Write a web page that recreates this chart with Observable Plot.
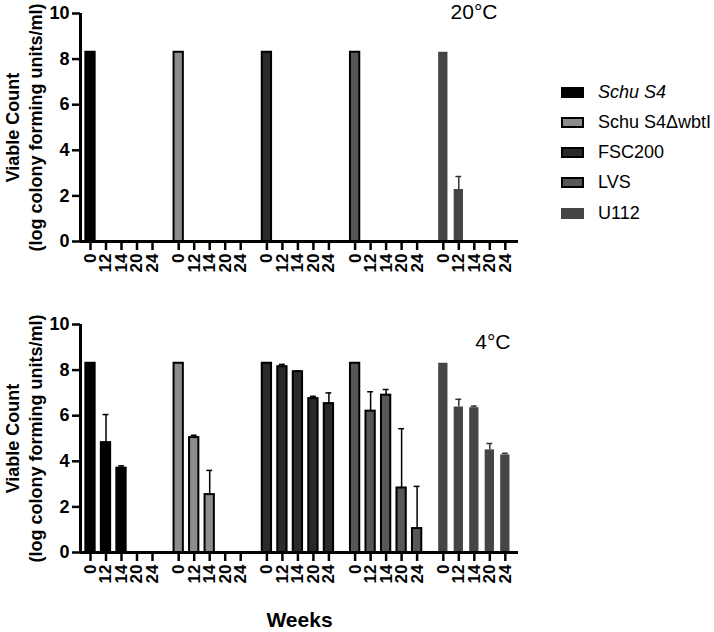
<!DOCTYPE html>
<html><head><meta charset="utf-8">
<script src="https://cdn.jsdelivr.net/npm/d3@7"></script>
<script src="https://cdn.jsdelivr.net/npm/@observablehq/plot@0.6"></script>
<style>
body{margin:0;background:#fff;font-family:"Liberation Sans",Arial,sans-serif;}
#wrap{position:relative;width:714px;height:632px;overflow:hidden;}
#top{position:absolute;left:0;top:0}
#bottom{position:absolute;left:0;top:300px}
#legend{position:absolute;left:561px;top:0;width:153px;height:260px}
.row{position:absolute;left:0;height:22px;display:flex;align-items:center;white-space:nowrap;font-size:18px;color:#000}
.sw{width:23px;height:11px;box-sizing:border-box;margin-right:14px;flex:none}
svg text{font-family:"Liberation Sans",Arial,sans-serif}
</style></head><body>
<div id="wrap"><div id="top"></div><div id="bottom"></div><div id="legend"></div></div>
<script>
// ---- data ----
const strains = ["Schu S4", "Schu S4\u0394wbtI", "FSC200", "LVS", "U112"];
const weeks = ["0", "12", "14", "20", "24"];
const yTicks = [0, 2, 4, 6, 8, 10];
// 20 °C: mean log CFU/ml per strain (rows) and week (columns); 0 = none recovered
const mean20 = [
  [8.3, 0, 0, 0, 0],
  [8.3, 0, 0, 0, 0],
  [8.3, 0, 0, 0, 0],
  [8.3, 0, 0, 0, 0],
  [8.3, 2.28, 0, 0, 0]
];
const sd20 = [
  [0, 0, 0, 0, 0],
  [0, 0, 0, 0, 0],
  [0, 0, 0, 0, 0],
  [0, 0, 0, 0, 0],
  [0, 0.57, 0, 0, 0]
];
// 4 °C
const mean4 = [
  [8.3, 4.82, 3.7, 0, 0],
  [8.3, 5.04, 2.54, 0, 0],
  [8.3, 8.15, 7.93, 6.75, 6.53],
  [8.3, 6.2, 6.9, 2.83, 1.05],
  [8.3, 6.38, 6.35, 4.5, 4.28]
];
const sd4 = [
  [0, 1.23, 0.1, 0, 0],
  [0, 0.1, 1.06, 0, 0],
  [0, 0.1, 0.03, 0.1, 0.47],
  [0, 0.85, 0.25, 2.6, 1.85],
  [0, 0.34, 0.07, 0.28, 0.07]
];
// ---- styles ----
const fills = ["#000000", "#8c8c8c", "#2a2a2a", "#575757", "#454545"];
const strokes = ["#000000", "#000000", "#000000", "#000000", "none"];
const errColors = ["#000000", "#000000", "#000000", "#000000", "#333333"];
const groupStep = 5.69;   // group spacing in bar units
const half = 0.3;         // half bar width in bar units

function rowsFrom(means, sds) {
  const rows = [];
  strains.forEach((s, g) => weeks.forEach((w, i) => {
    rows.push({strain: s, week: w, g, i, pos: g * groupStep + i, mean: means[g][i], sd: sds[g][i]});
  }));
  return rows;
}
const tickPos = [];
const tickLab = new Map();
strains.forEach((s, g) => weeks.forEach((w, i) => { const p = g * groupStep + i; tickPos.push(p); tickLab.set(p, w); }));
const xDomain = [-0.645, 27.61];

function panel(rows, title, o) {
  const bars = rows.filter(d => d.mean > 0);
  const errs = bars.filter(d => d.sd > 0);
  return Plot.plot({
    width: 714, height: o.height,
    marginLeft: 80, marginRight: 196, marginTop: o.mt, marginBottom: o.mb,
    style: {fontFamily: "Liberation Sans, Arial, sans-serif", background: "#fff", overflow: "visible"},
    x: {domain: xDomain, axis: null},
    y: {domain: [0, 10], axis: null},
    marks: [
      Plot.ruleX(errs, {x: "pos", y1: "mean", y2: d => d.mean + d.sd, stroke: d => errColors[d.g], strokeWidth: 1.5}),
      Plot.ruleY(errs, {y: d => d.mean + d.sd, x1: d => d.pos - 0.19, x2: d => d.pos + 0.19, stroke: d => errColors[d.g], strokeWidth: 1.5}),
      Plot.rectY(bars, {x1: d => d.pos - half, x2: d => d.pos + half, y1: 0, y2: "mean",
        fill: d => fills[d.g], stroke: d => strokes[d.g], strokeWidth: 2}),
      Plot.axisY({ticks: yTicks, tickSize: 8, tickPadding: 3, fontSize: 18, fontWeight: "bold", strokeWidth: 2.5, label: null}),
      Plot.axisX({ticks: tickPos, tickFormat: d => tickLab.get(d), tickSize: 9, tickPadding: 3, tickRotate: -90,
        fontSize: 17, fontWeight: "bold", strokeWidth: 2.5, label: null}),
      Plot.ruleX([xDomain[0]], {strokeWidth: 3}),
      Plot.ruleY([0], {strokeWidth: 3}),
      Plot.text([title], {frameAnchor: "top-right", text: d => d, textAnchor: "end", lineAnchor: "middle",
        dx: o.tdx, dy: o.tdy, fontSize: 21}),
      Plot.text(["Viable Count\n(log colony forming units/ml)"], {frameAnchor: "left", text: d => d, rotate: -90,
        dx: -57, textAnchor: "middle", lineAnchor: "middle", lineHeight: 1.28, fontSize: 18, fontWeight: "bold"}),
      ...(o.weeks ? [Plot.text(["Weeks"], {frameAnchor: "bottom", text: d => d, dy: 68, lineAnchor: "middle", fontSize: 21, fontWeight: "bold"})] : [])
    ]
  });
}

document.getElementById("top").append(panel(rowsFrom(mean20, sd20), "20\u00b0C", {height: 300, mt: 13, mb: 59, tdx: -21, tdy: -1, weeks: false}));
document.getElementById("bottom").append(panel(rowsFrom(mean4, sd4), "4\u00b0C", {height: 332, mt: 24, mb: 80, tdx: -8, tdy: 18, weeks: true}));

// legend
const legend = document.getElementById("legend");
strains.forEach((s, g) => {
  const row = document.createElement("div");
  row.className = "row";
  row.style.top = (92 + 30.3 * g - 11) + "px";
  const sw = document.createElement("div");
  sw.className = "sw";
  sw.style.background = fills[g];
  if (strokes[g] !== "none") sw.style.border = "2px solid " + strokes[g];
  const lab = document.createElement("span");
  lab.textContent = s;
  if (g === 0) lab.style.fontStyle = "italic";
  row.append(sw, lab);
  legend.append(row);
});
</script>
</body></html>
